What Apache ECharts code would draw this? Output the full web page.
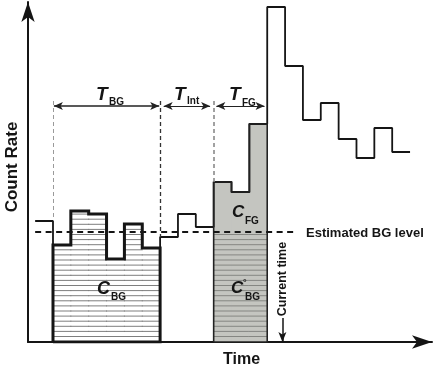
<!DOCTYPE html>
<html>
<head>
<meta charset="utf-8">
<script src="https://cdn.jsdelivr.net/npm/echarts@6/dist/echarts.min.js"></script>
<style>
  html, body { margin: 0; padding: 0; background: #fff; }
  #chart { width: 436px; height: 375px; }
</style>
</head>
<body>
<div id="chart"></div>
<script>
// count rate per time bin, one bin = one time unit, first bin starts at t = -1
const binStart = -1;
const countRate = [12.1, 9.7, 13.1, 12.8, 8.3, 11.8, 9.4, 10.5, 12.8, 11.5, 16.0, 15.0, 21.8, 33.5, 27.6, 22.2, 23.9, 20.3, 18.4, 21.4, 19.0];
const bgLevel = 11.0;
const bgLevelEnd = 13.7;
const bgWindow = [0, 6];
const intWindow = [6, 9];
const fgWindow = [9, 12];
const currentTime = 12.85;
const arrowLevel = 23.6;

const FONT = "'Liberation Sans', Arial, sans-serif";
const INK = '#151515';

const binAt = t => countRate[t - binStart];
function steps(from, to) {
  const pts = [];
  for (let t = from; t < to; t++) {
    pts.push([t, binAt(t)], [t + 1, binAt(t)]);
  }
  return pts;
}
function box(win) {
  return [[win[0], 0], ...steps(win[0], win[1]), [win[1], 0], [win[0], 0]];
}

const fullLine = steps(binStart, binStart + countRate.length);
const fillBins = [];
for (let t = bgWindow[0]; t < bgWindow[1]; t++) fillBins.push([t, t + 1, binAt(t), 0]);
for (let t = fgWindow[0]; t < fgWindow[1]; t++) fillBins.push([t, t + 1, binAt(t), 1]);

// vertical guide (dashed) and double arrows for the windows
function guide(t, y1, color, width) {
  return [
    {coord: [t, arrowLevel + 0.5], symbol: 'none', lineStyle: {color: color, width: width, type: [4, 3]}},
    {coord: [t, y1], symbol: 'none'}
  ];
}
function span(win, pad, width) {
  return [
    {coord: [win[0] + pad, arrowLevel], symbol: 'arrow', lineStyle: {color: '#222', width: width, type: 'solid'}},
    {coord: [win[1] - pad, arrowLevel], symbol: 'arrow'}
  ];
}
function label(x, y, text, size, italic, rotate) {
  return {
    type: 'text', x: x, y: y, z: 100, rotation: rotate ? Math.PI / 2 : 0,
    style: {
      text: text, fontFamily: FONT, fontWeight: 'bold', fontStyle: italic ? 'italic' : 'normal',
      fontSize: size, fill: INK, textAlign: rotate ? 'center' : 'left', textVerticalAlign: 'middle'
    }
  };
}

const chart = echarts.init(document.getElementById('chart'));
chart.setOption({
  animation: false,
  grid: {left: 28, right: 4, top: 2, bottom: 33},
  xAxis: {
    type: 'value', min: -1.4, max: 21.23,
    splitLine: {show: false}, axisTick: {show: false}, axisLabel: {show: false},
    axisLine: {onZero: false, symbol: ['none', 'arrow'], symbolSize: [10, 20], lineStyle: {color: INK, width: 2}}
  },
  yAxis: {
    type: 'value', min: 0, max: 34.0,
    splitLine: {show: false}, axisTick: {show: false}, axisLabel: {show: false},
    axisLine: {onZero: false, symbol: ['none', 'arrow'], symbolSize: [10, 20], lineStyle: {color: INK, width: 2}}
  },
  series: [
    {
      type: 'custom', z: 1, silent: true,
      encode: {x: [0, 1], y: 2},
      data: fillBins,
      renderItem: function (params, api) {
        const x0 = api.value(0), x1 = api.value(1), v = api.value(2), kind = api.value(3);
        const p0 = api.coord([x0, 0]);
        const p1 = api.coord([x1, v]);
        const children = [];
        if (kind === 1) {
          children.push({type: 'rect', shape: {x: p0[0] - 0.5, y: p1[1], width: p1[0] - p0[0] + 1, height: p0[1] - p1[1]},
            style: {fill: '#c4c5c0'}});
        }
        const top = kind === 1 ? api.coord([x0, bgLevel])[1] : p1[1];
        for (let y = Math.round(p0[1]) - 5.5; y > top + 2; y -= 5.1) {
          children.push({type: 'line', shape: {x1: p0[0] - 0.5, y1: y, x2: p1[0] + 0.5, y2: y},
            style: {stroke: kind === 1 ? '#858682' : '#7e7e7e', lineWidth: 1}});
        }
        return {type: 'group', children: children};
      }
    },
    {
      type: 'line', z: 3, data: fullLine, showSymbol: false, clip: false, silent: true,
      lineStyle: {color: INK, width: 1.8}
    },
    {
      type: 'line', z: 4, data: box(bgWindow), showSymbol: false, silent: true,
      lineStyle: {color: INK, width: 3, join: 'miter'}
    },
    {
      type: 'line', z: 4, data: box(fgWindow), showSymbol: false, silent: true,
      lineStyle: {color: '#222', width: 1.6, join: 'miter'}
    },
    {
      type: 'line', z: 5, data: [[binStart, bgLevel], [bgLevelEnd, bgLevel]], showSymbol: false, silent: true,
      lineStyle: {color: INK, width: 2, type: [6, 4.5]},
      markLine: {
        silent: true, animation: false, symbolSize: [6, 9],
        label: {show: false},
        data: [
          guide(bgWindow[0], binAt(binStart), '#9a9a9a', 1),
          guide(intWindow[0], binAt(intWindow[0]), '#333', 1.3),
          guide(fgWindow[0], binAt(fgWindow[0]), '#8a8a8a', 1.6),
          span(bgWindow, 0.05, 1.5),
          span(intWindow, 0.2, 1),
          span(fgWindow, 0.15, 1),
          [
            {coord: [currentTime, 2.4], symbol: 'none', lineStyle: {color: INK, width: 1.5, type: 'solid'}},
            {coord: [currentTime, 0], symbol: 'arrow', symbolSize: [6, 10]}
          ]
        ]
      }
    }
  ],
  graphic: [
    label(12, 167, 'Count Rate', 17, false, true),
    label(223, 360, 'Time', 16, false, false),
    label(306, 233, 'Estimated BG level', 13, false, false),
    label(283, 279, 'Current time', 12.5, false, true),

    label(96, 95, 'T', 19, true), label(109, 102, 'BG', 10),
    label(174, 95, 'T', 19, true), label(187, 101, 'Int', 10),
    label(229, 95, 'T', 19, true), label(242, 103, 'FG', 10),

    label(97, 289, 'C', 18, true), label(111, 297, 'BG', 10),
    label(232, 212, 'C', 17, true), label(245, 221, 'FG', 10),
    label(231, 288, 'C', 17, true), label(243, 283, '°', 9), label(245, 297, 'BG', 10)
  ]
});
</script>
</body>
</html>
